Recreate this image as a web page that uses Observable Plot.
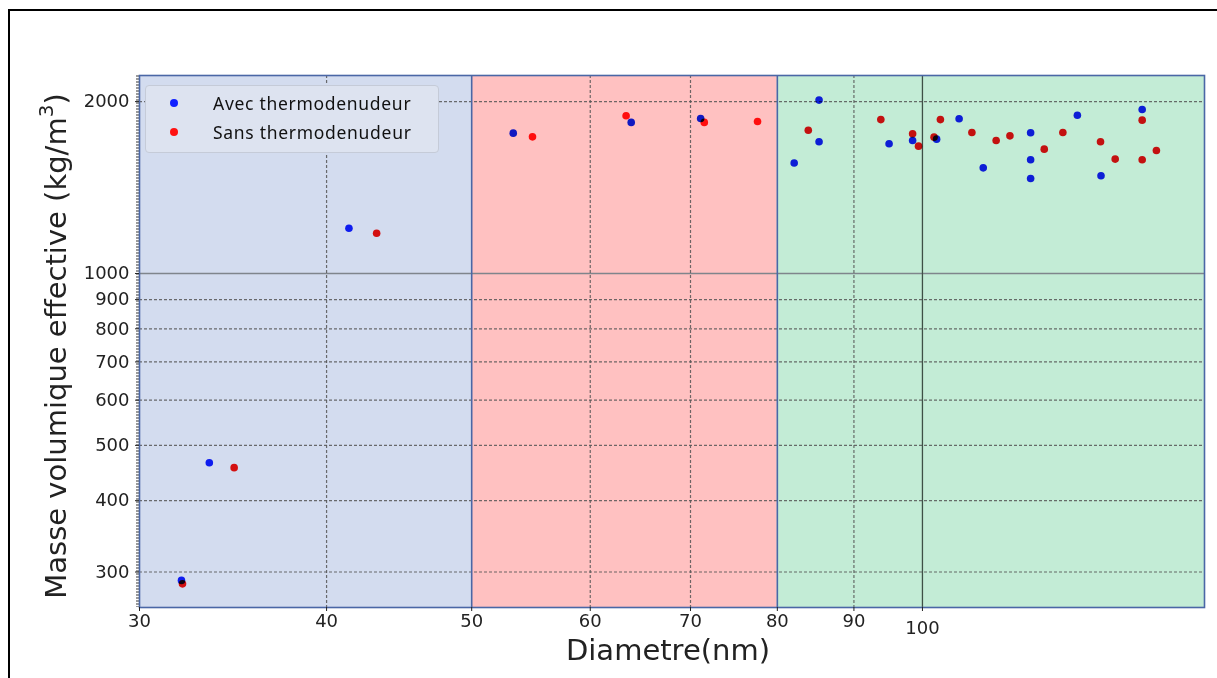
<!DOCTYPE html>
<html>
<head>
<meta charset="utf-8">
<script src="https://cdn.jsdelivr.net/npm/d3@7"></script>
<script src="https://cdn.jsdelivr.net/npm/@observablehq/plot@0.6"></script>
<style>
  html, body { margin: 0; padding: 0; background: #fff; overflow: hidden; }
  #wrap { position: relative; width: 1217px; height: 678px; }
  #border { position: absolute; left: 8px; top: 9px; width: 1240px; height: 720px; border: 2px solid #000; pointer-events: none; }
  #legend { position: absolute; left: 145px; top: 85px; width: 292px; height: 66px; background: #dde3f0; border: 1px solid #c5cbd8; border-radius: 4px; font-family: "Noto Sans", sans-serif; font-size: 17.5px; color: #111; }
  .lg-row { position: absolute; left: 0; height: 24px; line-height: 24px; }
  .lg-dot { position: absolute; left: 24px; top: 8px; width: 8px; height: 8px; border-radius: 50%; }
  .lg-txt { position: absolute; left: 67px; top: 0; white-space: nowrap; letter-spacing: 0.7px; }
</style>
</head>
<body>
<div id="wrap"></div>
<script>
// ---- data ----
const xTicks = [30, 40, 50, 60, 70, 80, 90];
const xTicksLow = [100];
const yTicks = [300, 400, 500, 600, 700, 800, 900, 1000, 2000];
const xDomain = [30, 154.3];
const yDomain = [260, 2222];

const bandStarts = [30, 50, 80];
const bandEnds = [50, 80, 154.3];
const bandColors = ["#d3dcef", "#ffc1c1", "#c3ecd6"];

const xGridDashed = [40, 60, 70, 90];
const xGridSolid = [100];
const bandEdges = [50, 80];
const yGridDashed = [300, 400, 500, 600, 700, 800, 900, 2000];
const yGridSolid = [1000];

const seriesNames = ["Avec thermodenudeur", "Sans thermodenudeur"];
const seriesColors = ["#1020ff", "#ff1212"];

const avecD   = [32.0, 33.4, 41.4, 53.3, 63.9, 71.1, 82.1, 85.3, 85.3, 95.0, 98.5, 102.2, 105.8, 109.8, 118.1, 118.1, 118.1, 126.9, 131.6, 140.2];
const avecRho = [290, 466, 1200, 1761, 1839, 1868, 1561, 2012, 1701, 1687, 1710, 1719, 1866, 1531, 1764, 1582, 1467, 1893, 1483, 1937];

const sansD   = [32.05, 34.7, 43.2, 54.9, 63.4, 71.5, 77.6, 83.9, 93.8, 98.5, 99.4, 101.8, 102.8, 107.9, 112.0, 114.4, 120.6, 124.1, 131.5, 134.5, 140.2, 140.2, 143.3];
const sansRho = [286, 457, 1176, 1735, 1889, 1839, 1846, 1782, 1860, 1757, 1671, 1733, 1860, 1766, 1710, 1742, 1651, 1766, 1701, 1586, 1856, 1582, 1642];

const xLabel = "Diametre(nm)";
const yLabelMain = "Masse volumique effective (kg/m";
const yLabelSup = "3";
const yLabelEnd = ")";

// ---- build ----
const bands = bandStarts.map((s, i) => ({x1: s, x2: bandEnds[i], c: bandColors[i]}));
const avec = avecD.map((d, i) => ({d, rho: avecRho[i]}));
const sans = sansD.map((d, i) => ({d, rho: sansRho[i]}));

const W = 1217, H = 678;
const chart = Plot.plot({
  width: W, height: H,
  marginLeft: 139, marginRight: 13, marginTop: 75, marginBottom: 71,
  style: {fontFamily: "DejaVu Sans, sans-serif", fontSize: "18px", color: "#222", background: "transparent", overflow: "visible"},
  x: {type: "log", domain: xDomain, label: null},
  y: {type: "log", domain: yDomain, label: null},
  marks: [
    Plot.rect(bands, {x1: "x1", x2: "x2", fill: "c"}),
    Plot.ruleX([xDomain[0]], {stroke: "#9a9a9a", strokeWidth: 3, strokeDasharray: "2,1", dx: -2}),
    Plot.ruleY(yGridDashed, {stroke: "#555", strokeOpacity: 0.85, strokeWidth: 1.2, strokeDasharray: "3,2"}),
    Plot.ruleY(yGridSolid, {stroke: "#7f858c", strokeWidth: 1.6}),
    Plot.ruleX(xGridDashed, {stroke: "#555", strokeOpacity: 0.85, strokeWidth: 1.2, strokeDasharray: "3,2"}),
    Plot.ruleX(xGridSolid, {stroke: "#3e5046", strokeWidth: 1.3}),
    Plot.ruleX(bandEdges, {stroke: "#4a67a6", strokeWidth: 1.6}),
    Plot.frame({stroke: "#4a67a6", strokeWidth: 1.6}),
    Plot.axisX({ticks: xTicks, tickFormat: d => String(d), tickSize: 4, tickPadding: 3, label: null, fontSize: 18}),
    Plot.axisX({ticks: xTicksLow, tickFormat: d => String(d), tickSize: 4, tickPadding: 10, label: null, fontSize: 18}),
    Plot.axisY({ticks: yTicks, tickFormat: d => String(d), tickSize: 4, tickPadding: 6, label: null, fontSize: 18}),
    Plot.dot(avec, {x: "d", y: "rho", r: 3.8, fill: seriesColors[0], mixBlendMode: "multiply"}),
    Plot.dot(sans, {x: "d", y: "rho", r: 3.8, fill: seriesColors[1], mixBlendMode: "multiply"})
  ]
});

const wrap = document.getElementById("wrap");
wrap.appendChild(chart);

// axis titles
const svg = d3.select(chart);
svg.append("text")
  .attr("x", 668).attr("y", 652)
  .attr("text-anchor", "middle").attr("dominant-baseline", "middle")
  .attr("font-family", "DejaVu Sans, sans-serif").attr("font-size", 29).attr("fill", "#222")
  .text(xLabel);
const yt = svg.append("text")
  .attr("transform", "translate(58,346) rotate(-90)")
  .attr("text-anchor", "middle").attr("dominant-baseline", "middle")
  .attr("font-family", "DejaVu Sans, sans-serif").attr("font-size", 29).attr("fill", "#222");
yt.append("tspan").text(yLabelMain);
yt.append("tspan").attr("font-size", 20).attr("dy", -11).text(yLabelSup);
yt.append("tspan").attr("dy", 11).text(yLabelEnd);

// legend overlay
const lg = document.createElement("div");
lg.id = "legend";
seriesNames.forEach((name, i) => {
  const row = document.createElement("div");
  row.className = "lg-row";
  row.style.top = (5 + i * 29) + "px";
  row.style.width = "100%";
  const dot = document.createElement("div");
  dot.className = "lg-dot";
  dot.style.background = seriesColors[i];
  const t = document.createElement("div");
  t.className = "lg-txt";
  t.textContent = name;
  row.appendChild(dot); row.appendChild(t);
  lg.appendChild(row);
});
wrap.appendChild(lg);

const border = document.createElement("div");
border.id = "border";
wrap.appendChild(border);
</script>
</body>
</html>
